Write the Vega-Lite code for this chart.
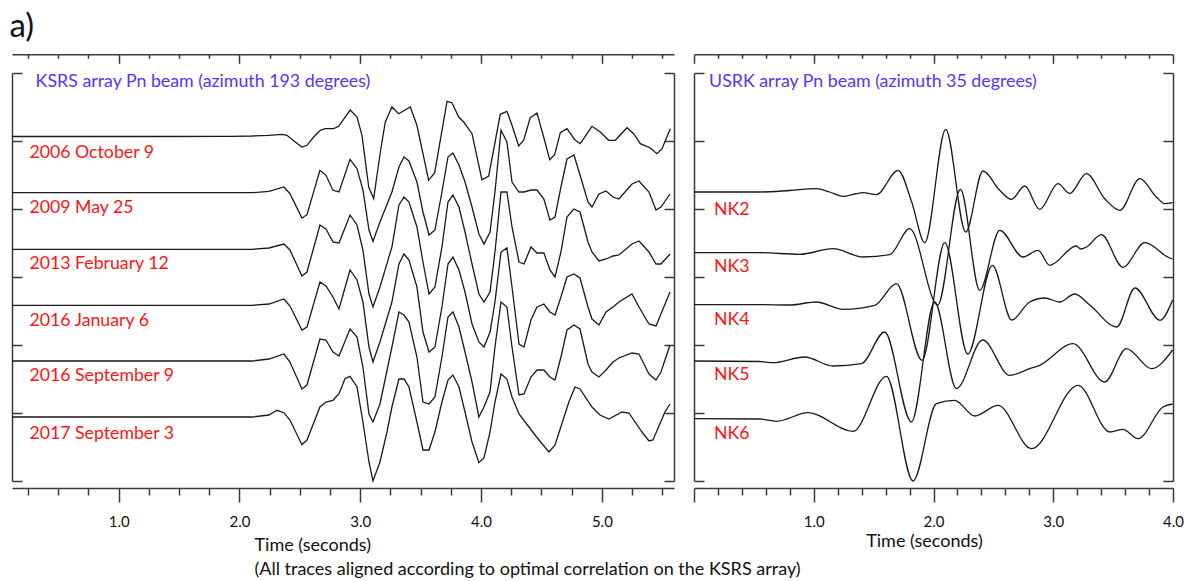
{
"$schema": "https://vega.github.io/schema/vega-lite/v6.json",
"background": "white",
"padding": {"left": 9, "top": 10, "right": 4, "bottom": 0},
"title": {"text": "a)", "anchor": "start", "frame": "bounds", "fontSize": 33, "font": "Lato", "fontWeight": "normal", "color": "#111", "offset": 10},
"config": {"view": {"stroke": null}, "axis": {"domainColor": "#3a3a3a", "domainWidth": 1.5, "tickColor": "#3a3a3a", "tickWidth": 1.5, "grid": false, "labelFont": "Lato", "titleFont": "Lato", "labelColor": "#111", "titleColor": "#111", "titleFontWeight": "normal"}},
"bounds": "flush",
"spacing": 20,
"datasets": {
"ksrs": [
{"trace":"2006","t":0.117,"v":3.445},{"trace":"2006","t":1.276,"v":3.445},{"trace":"2006","t":1.938,"v":3.447},{"trace":"2006","t":2.104,"v":3.45},{"trace":"2006","t":2.242,"v":3.457},{"trace":"2006","t":2.352,"v":3.467},{"trace":"2006","t":2.393,"v":3.457},{"trace":"2006","t":2.462,"v":3.39},{"trace":"2006","t":2.517,"v":3.34},{"trace":"2006","t":2.559,"v":3.357},
{"trace":"2006","t":2.614,"v":3.44},{"trace":"2006","t":2.669,"v":3.507},{"trace":"2006","t":2.71,"v":3.523},{"trace":"2006","t":2.78,"v":3.523},{"trace":"2006","t":2.821,"v":3.547},{"trace":"2006","t":2.917,"v":3.71},{"trace":"2006","t":2.973,"v":3.64},{"trace":"2006","t":3.014,"v":3.457},{"trace":"2006","t":3.07,"v":2.94},{"trace":"2006","t":3.111,"v":2.823},
{"trace":"2006","t":3.166,"v":3.29},{"trace":"2006","t":3.207,"v":3.59},{"trace":"2006","t":3.262,"v":3.74},{"trace":"2006","t":3.318,"v":3.673},{"trace":"2006","t":3.414,"v":3.74},{"trace":"2006","t":3.469,"v":3.557},{"trace":"2006","t":3.566,"v":3.007},{"trace":"2006","t":3.616,"v":3.083},{"trace":"2006","t":3.718,"v":3.797},{"trace":"2006","t":3.759,"v":3.783},
{"trace":"2006","t":3.815,"v":3.64},{"trace":"2006","t":3.856,"v":3.59},{"trace":"2006","t":3.925,"v":3.473},{"trace":"2006","t":4.007,"v":3.013},{"trace":"2006","t":4.063,"v":3.05},{"trace":"2006","t":4.159,"v":3.667},{"trace":"2006","t":4.214,"v":3.697},{"trace":"2006","t":4.256,"v":3.557},{"trace":"2006","t":4.311,"v":3.35},{"trace":"2006","t":4.353,"v":3.407},
{"trace":"2006","t":4.407,"v":3.633},{"trace":"2006","t":4.463,"v":3.68},{"trace":"2006","t":4.518,"v":3.44},{"trace":"2006","t":4.568,"v":3.213},{"trace":"2006","t":4.609,"v":3.263},{"trace":"2006","t":4.656,"v":3.483},{"trace":"2006","t":4.711,"v":3.523},{"trace":"2006","t":4.775,"v":3.413},{"trace":"2006","t":4.821,"v":3.373},{"trace":"2006","t":4.918,"v":3.547},
{"trace":"2006","t":4.987,"v":3.49},{"trace":"2006","t":5.056,"v":3.407},{"trace":"2006","t":5.111,"v":3.407},{"trace":"2006","t":5.208,"v":3.533},{"trace":"2006","t":5.263,"v":3.473},{"trace":"2006","t":5.318,"v":3.373},{"trace":"2006","t":5.401,"v":3.33},{"trace":"2006","t":5.456,"v":3.273},{"trace":"2006","t":5.498,"v":3.323},{"trace":"2006","t":5.566,"v":3.523},
{"trace":"2009","t":0.117,"v":2.883},{"trace":"2009","t":1.276,"v":2.883},{"trace":"2009","t":2.104,"v":2.883},{"trace":"2009","t":2.244,"v":2.897},{"trace":"2009","t":2.368,"v":2.94},{"trace":"2009","t":2.418,"v":2.873},{"trace":"2009","t":2.517,"v":2.63},{"trace":"2009","t":2.559,"v":2.663},{"trace":"2009","t":2.666,"v":3.107},{"trace":"2009","t":2.716,"v":3.057},
{"trace":"2009","t":2.774,"v":2.907},{"trace":"2009","t":2.824,"v":2.89},{"trace":"2009","t":2.915,"v":3.217},{"trace":"2009","t":2.973,"v":3.123},{"trace":"2009","t":3.022,"v":2.91},{"trace":"2009","t":3.072,"v":2.51},{"trace":"2009","t":3.105,"v":2.397},{"trace":"2009","t":3.163,"v":2.59},{"trace":"2009","t":3.262,"v":2.89},{"trace":"2009","t":3.32,"v":3.14},
{"trace":"2009","t":3.362,"v":3.24},{"trace":"2009","t":3.403,"v":3.2},{"trace":"2009","t":3.469,"v":2.99},{"trace":"2009","t":3.519,"v":2.69},{"trace":"2009","t":3.569,"v":2.46},{"trace":"2009","t":3.618,"v":2.51},{"trace":"2009","t":3.676,"v":2.89},{"trace":"2009","t":3.726,"v":3.24},{"trace":"2009","t":3.767,"v":3.28},{"trace":"2009","t":3.817,"v":3.16},
{"trace":"2009","t":3.867,"v":2.99},{"trace":"2009","t":3.925,"v":2.74},{"trace":"2009","t":3.982,"v":2.47},{"trace":"2009","t":4.024,"v":2.37},{"trace":"2009","t":4.074,"v":2.49},{"trace":"2009","t":4.115,"v":2.89},{"trace":"2009","t":4.165,"v":3.507},{"trace":"2009","t":4.214,"v":3.39},{"trace":"2009","t":4.256,"v":2.99},{"trace":"2009","t":4.314,"v":2.89},
{"trace":"2009","t":4.355,"v":2.89},{"trace":"2009","t":4.413,"v":2.91},{"trace":"2009","t":4.463,"v":2.91},{"trace":"2009","t":4.52,"v":2.82},{"trace":"2009","t":4.57,"v":2.61},{"trace":"2009","t":4.612,"v":2.64},{"trace":"2009","t":4.661,"v":2.94},{"trace":"2009","t":4.711,"v":3.22},{"trace":"2009","t":4.769,"v":3.26},{"trace":"2009","t":4.819,"v":3.06},
{"trace":"2009","t":4.885,"v":2.79},{"trace":"2009","t":4.918,"v":2.74},{"trace":"2009","t":4.976,"v":2.87},{"trace":"2009","t":5.034,"v":2.9},{"trace":"2009","t":5.092,"v":2.84},{"trace":"2009","t":5.141,"v":2.82},{"trace":"2009","t":5.249,"v":2.97},{"trace":"2009","t":5.307,"v":3.0},{"trace":"2009","t":5.39,"v":2.89},{"trace":"2009","t":5.448,"v":2.71},
{"trace":"2009","t":5.489,"v":2.74},{"trace":"2009","t":5.564,"v":2.87},
{"trace":"2013","t":0.117,"v":2.317},{"trace":"2013","t":1.276,"v":2.317},{"trace":"2013","t":2.104,"v":2.317},{"trace":"2013","t":2.244,"v":2.33},{"trace":"2013","t":2.368,"v":2.37},{"trace":"2013","t":2.418,"v":2.31},{"trace":"2013","t":2.517,"v":2.05},{"trace":"2013","t":2.559,"v":2.09},{"trace":"2013","t":2.666,"v":2.56},{"trace":"2013","t":2.716,"v":2.52},
{"trace":"2013","t":2.774,"v":2.39},{"trace":"2013","t":2.824,"v":2.38},{"trace":"2013","t":2.915,"v":2.66},{"trace":"2013","t":2.973,"v":2.56},{"trace":"2013","t":3.022,"v":2.31},{"trace":"2013","t":3.072,"v":1.87},{"trace":"2013","t":3.105,"v":1.74},{"trace":"2013","t":3.163,"v":1.94},{"trace":"2013","t":3.262,"v":2.34},{"trace":"2013","t":3.32,"v":2.76},
{"trace":"2013","t":3.362,"v":2.84},{"trace":"2013","t":3.403,"v":2.79},{"trace":"2013","t":3.469,"v":2.54},{"trace":"2013","t":3.519,"v":2.19},{"trace":"2013","t":3.569,"v":1.87},{"trace":"2013","t":3.618,"v":1.94},{"trace":"2013","t":3.676,"v":2.34},{"trace":"2013","t":3.726,"v":2.79},{"trace":"2013","t":3.767,"v":2.86},{"trace":"2013","t":3.817,"v":2.74},
{"trace":"2013","t":3.867,"v":2.49},{"trace":"2013","t":3.925,"v":2.17},{"trace":"2013","t":3.982,"v":1.87},{"trace":"2013","t":4.024,"v":1.79},{"trace":"2013","t":4.074,"v":1.89},{"trace":"2013","t":4.115,"v":2.29},{"trace":"2013","t":4.165,"v":2.89},{"trace":"2013","t":4.214,"v":2.89},{"trace":"2013","t":4.256,"v":2.54},{"trace":"2013","t":4.314,"v":2.19},
{"trace":"2013","t":4.355,"v":2.17},{"trace":"2013","t":4.413,"v":2.34},{"trace":"2013","t":4.463,"v":2.28},{"trace":"2013","t":4.52,"v":2.28},{"trace":"2013","t":4.57,"v":2.11},{"trace":"2013","t":4.612,"v":2.04},{"trace":"2013","t":4.661,"v":2.29},{"trace":"2013","t":4.711,"v":2.64},{"trace":"2013","t":4.769,"v":2.72},{"trace":"2013","t":4.819,"v":2.69},
{"trace":"2013","t":4.885,"v":2.39},{"trace":"2013","t":4.918,"v":2.29},{"trace":"2013","t":4.976,"v":2.2},{"trace":"2013","t":5.034,"v":2.22},{"trace":"2013","t":5.092,"v":2.25},{"trace":"2013","t":5.141,"v":2.26},{"trace":"2013","t":5.249,"v":2.37},{"trace":"2013","t":5.307,"v":2.4},{"trace":"2013","t":5.39,"v":2.29},{"trace":"2013","t":5.448,"v":2.17},
{"trace":"2013","t":5.489,"v":2.17},{"trace":"2013","t":5.564,"v":2.27},
{"trace":"2016a","t":0.117,"v":1.757},{"trace":"2016a","t":1.276,"v":1.757},{"trace":"2016a","t":2.104,"v":1.757},{"trace":"2016a","t":2.244,"v":1.77},{"trace":"2016a","t":2.368,"v":1.82},{"trace":"2016a","t":2.418,"v":1.75},{"trace":"2016a","t":2.517,"v":1.51},{"trace":"2016a","t":2.559,"v":1.54},{"trace":"2016a","t":2.666,"v":1.99},{"trace":"2016a","t":2.716,"v":1.95},
{"trace":"2016a","t":2.774,"v":1.84},{"trace":"2016a","t":2.824,"v":1.72},{"trace":"2016a","t":2.915,"v":2.11},{"trace":"2016a","t":2.973,"v":2.01},{"trace":"2016a","t":3.022,"v":1.79},{"trace":"2016a","t":3.072,"v":1.34},{"trace":"2016a","t":3.105,"v":1.19},{"trace":"2016a","t":3.163,"v":1.39},{"trace":"2016a","t":3.262,"v":1.79},{"trace":"2016a","t":3.32,"v":2.17},
{"trace":"2016a","t":3.362,"v":2.27},{"trace":"2016a","t":3.403,"v":2.21},{"trace":"2016a","t":3.469,"v":1.94},{"trace":"2016a","t":3.519,"v":1.49},{"trace":"2016a","t":3.569,"v":1.29},{"trace":"2016a","t":3.618,"v":1.34},{"trace":"2016a","t":3.676,"v":1.74},{"trace":"2016a","t":3.726,"v":2.17},{"trace":"2016a","t":3.767,"v":2.24},{"trace":"2016a","t":3.817,"v":2.11},
{"trace":"2016a","t":3.867,"v":1.89},{"trace":"2016a","t":3.925,"v":1.57},{"trace":"2016a","t":3.982,"v":1.39},{"trace":"2016a","t":4.024,"v":1.34},{"trace":"2016a","t":4.074,"v":1.49},{"trace":"2016a","t":4.115,"v":1.79},{"trace":"2016a","t":4.165,"v":2.29},{"trace":"2016a","t":4.214,"v":2.33},{"trace":"2016a","t":4.256,"v":1.94},{"trace":"2016a","t":4.314,"v":1.37},
{"trace":"2016a","t":4.355,"v":1.34},{"trace":"2016a","t":4.413,"v":1.61},{"trace":"2016a","t":4.463,"v":1.74},{"trace":"2016a","t":4.52,"v":1.77},{"trace":"2016a","t":4.57,"v":1.69},{"trace":"2016a","t":4.612,"v":1.66},{"trace":"2016a","t":4.661,"v":1.84},{"trace":"2016a","t":4.711,"v":2.04},{"trace":"2016a","t":4.769,"v":2.07},{"trace":"2016a","t":4.819,"v":2.03},
{"trace":"2016a","t":4.885,"v":1.74},{"trace":"2016a","t":4.918,"v":1.62},{"trace":"2016a","t":4.976,"v":1.56},{"trace":"2016a","t":5.034,"v":1.69},{"trace":"2016a","t":5.092,"v":1.74},{"trace":"2016a","t":5.141,"v":1.79},{"trace":"2016a","t":5.249,"v":1.87},{"trace":"2016a","t":5.307,"v":1.74},{"trace":"2016a","t":5.39,"v":1.57},{"trace":"2016a","t":5.448,"v":1.55},
{"trace":"2016a","t":5.489,"v":1.67},{"trace":"2016a","t":5.564,"v":1.89},
{"trace":"2016b","t":0.117,"v":1.2},{"trace":"2016b","t":1.276,"v":1.2},{"trace":"2016b","t":2.104,"v":1.2},{"trace":"2016b","t":2.244,"v":1.22},{"trace":"2016b","t":2.368,"v":1.27},{"trace":"2016b","t":2.418,"v":1.19},{"trace":"2016b","t":2.517,"v":0.92},{"trace":"2016b","t":2.559,"v":0.96},{"trace":"2016b","t":2.666,"v":1.42},{"trace":"2016b","t":2.716,"v":1.41},
{"trace":"2016b","t":2.774,"v":1.29},{"trace":"2016b","t":2.824,"v":1.25},{"trace":"2016b","t":2.915,"v":1.52},{"trace":"2016b","t":2.973,"v":1.44},{"trace":"2016b","t":3.022,"v":1.14},{"trace":"2016b","t":3.072,"v":0.67},{"trace":"2016b","t":3.105,"v":0.59},{"trace":"2016b","t":3.163,"v":0.77},{"trace":"2016b","t":3.262,"v":1.34},{"trace":"2016b","t":3.32,"v":1.69},
{"trace":"2016b","t":3.362,"v":1.66},{"trace":"2016b","t":3.403,"v":1.59},{"trace":"2016b","t":3.469,"v":1.24},{"trace":"2016b","t":3.519,"v":0.79},{"trace":"2016b","t":3.569,"v":0.77},{"trace":"2016b","t":3.618,"v":0.84},{"trace":"2016b","t":3.676,"v":1.24},{"trace":"2016b","t":3.726,"v":1.64},{"trace":"2016b","t":3.767,"v":1.69},{"trace":"2016b","t":3.817,"v":1.54},
{"trace":"2016b","t":3.867,"v":1.29},{"trace":"2016b","t":3.925,"v":0.99},{"trace":"2016b","t":3.982,"v":0.64},{"trace":"2016b","t":4.024,"v":0.74},{"trace":"2016b","t":4.074,"v":0.89},{"trace":"2016b","t":4.115,"v":1.34},{"trace":"2016b","t":4.165,"v":1.79},{"trace":"2016b","t":4.214,"v":1.74},{"trace":"2016b","t":4.256,"v":1.34},{"trace":"2016b","t":4.314,"v":0.86},
{"trace":"2016b","t":4.355,"v":0.87},{"trace":"2016b","t":4.413,"v":1.04},{"trace":"2016b","t":4.463,"v":1.11},{"trace":"2016b","t":4.52,"v":1.11},{"trace":"2016b","t":4.57,"v":1.04},{"trace":"2016b","t":4.612,"v":1.01},{"trace":"2016b","t":4.661,"v":1.24},{"trace":"2016b","t":4.711,"v":1.51},{"trace":"2016b","t":4.769,"v":1.56},{"trace":"2016b","t":4.819,"v":1.52},
{"trace":"2016b","t":4.885,"v":1.17},{"trace":"2016b","t":4.918,"v":1.09},{"trace":"2016b","t":4.976,"v":1.04},{"trace":"2016b","t":5.034,"v":1.11},{"trace":"2016b","t":5.092,"v":1.19},{"trace":"2016b","t":5.141,"v":1.23},{"trace":"2016b","t":5.249,"v":1.28},{"trace":"2016b","t":5.307,"v":1.27},{"trace":"2016b","t":5.39,"v":1.07},{"trace":"2016b","t":5.448,"v":1.01},
{"trace":"2016b","t":5.489,"v":1.09},{"trace":"2016b","t":5.564,"v":1.36},
{"trace":"2017","t":0.117,"v":0.64},{"trace":"2017","t":1.276,"v":0.64},{"trace":"2017","t":2.104,"v":0.64},{"trace":"2017","t":2.244,"v":0.66},{"trace":"2017","t":2.31,"v":0.707},{"trace":"2017","t":2.368,"v":0.683},{"trace":"2017","t":2.418,"v":0.61},{"trace":"2017","t":2.517,"v":0.363},{"trace":"2017","t":2.559,"v":0.41},{"trace":"2017","t":2.666,"v":0.74},
{"trace":"2017","t":2.716,"v":0.79},{"trace":"2017","t":2.774,"v":0.807},{"trace":"2017","t":2.824,"v":0.873},{"trace":"2017","t":2.873,"v":1.023},{"trace":"2017","t":2.915,"v":1.047},{"trace":"2017","t":2.973,"v":0.94},{"trace":"2017","t":3.022,"v":0.59},{"trace":"2017","t":3.072,"v":0.19},{"trace":"2017","t":3.105,"v":0.0},{"trace":"2017","t":3.163,"v":0.19},
{"trace":"2017","t":3.221,"v":0.49},{"trace":"2017","t":3.262,"v":0.74},{"trace":"2017","t":3.32,"v":1.02},{"trace":"2017","t":3.362,"v":1.02},{"trace":"2017","t":3.403,"v":0.94},{"trace":"2017","t":3.469,"v":0.59},{"trace":"2017","t":3.519,"v":0.31},{"trace":"2017","t":3.569,"v":0.31},{"trace":"2017","t":3.618,"v":0.49},{"trace":"2017","t":3.676,"v":0.79},
{"trace":"2017","t":3.726,"v":1.01},{"trace":"2017","t":3.767,"v":1.06},{"trace":"2017","t":3.817,"v":0.94},{"trace":"2017","t":3.867,"v":0.69},{"trace":"2017","t":3.925,"v":0.39},{"trace":"2017","t":3.982,"v":0.183},{"trace":"2017","t":4.024,"v":0.23},{"trace":"2017","t":4.074,"v":0.49},{"trace":"2017","t":4.115,"v":0.79},{"trace":"2017","t":4.165,"v":1.07},
{"trace":"2017","t":4.214,"v":1.02},{"trace":"2017","t":4.256,"v":0.84},{"trace":"2017","t":4.314,"v":0.67},{"trace":"2017","t":4.396,"v":0.54},{"trace":"2017","t":4.479,"v":0.41},{"trace":"2017","t":4.562,"v":0.29},{"trace":"2017","t":4.612,"v":0.36},{"trace":"2017","t":4.727,"v":0.79},{"trace":"2017","t":4.777,"v":0.94},{"trace":"2017","t":4.819,"v":0.92},
{"trace":"2017","t":4.918,"v":0.74},{"trace":"2017","t":4.984,"v":0.66},{"trace":"2017","t":5.059,"v":0.62},{"trace":"2017","t":5.166,"v":0.69},{"trace":"2017","t":5.224,"v":0.68},{"trace":"2017","t":5.332,"v":0.49},{"trace":"2017","t":5.39,"v":0.4},{"trace":"2017","t":5.423,"v":0.41},{"trace":"2017","t":5.522,"v":0.69},{"trace":"2017","t":5.564,"v":0.77}
],
"ksrsLabels": [
{"label":"2006 October 9","t":0.262,"v":3.285},
{"label":"2009 May 25","t":0.262,"v":2.735},
{"label":"2013 February 12","t":0.262,"v":2.17},
{"label":"2016 January 6","t":0.262,"v":1.605},
{"label":"2016 September 9","t":0.262,"v":1.05},
{"label":"2017 September 3","t":0.262,"v":0.47}
],
"nk": [
{"trace":"NK2","t":0,"v":2.89},{"trace":"NK2","t":0.549,"v":2.89},{"trace":"NK2","t":0.799,"v":2.905},{"trace":"NK2","t":1.022,"v":2.923},{"trace":"NK2","t":1.133,"v":2.89},{"trace":"NK2","t":1.244,"v":2.847},{"trace":"NK2","t":1.342,"v":2.87},{"trace":"NK2","t":1.411,"v":2.883},{"trace":"NK2","t":1.523,"v":2.863},{"trace":"NK2","t":1.704,"v":3.107},
{"trace":"NK2","t":1.818,"v":2.79},{"trace":"NK2","t":1.927,"v":2.383},{"trace":"NK2","t":2.102,"v":3.517},{"trace":"NK2","t":2.269,"v":2.49},{"trace":"NK2","t":2.413,"v":3.1},{"trace":"NK2","t":2.553,"v":2.907},{"trace":"NK2","t":2.651,"v":2.817},{"trace":"NK2","t":2.762,"v":2.95},{"trace":"NK2","t":2.887,"v":2.717},{"trace":"NK2","t":3.04,"v":2.973},
{"trace":"NK2","t":3.137,"v":2.875},{"trace":"NK2","t":3.277,"v":3.073},{"trace":"NK2","t":3.43,"v":2.823},{"trace":"NK2","t":3.556,"v":2.707},{"trace":"NK2","t":3.723,"v":3.023},{"trace":"NK2","t":3.861,"v":2.84},{"trace":"NK2","t":3.931,"v":2.773},{"trace":"NK2","t":3.997,"v":2.783},
{"trace":"NK3","t":0,"v":2.283},{"trace":"NK3","t":0.549,"v":2.283},{"trace":"NK3","t":0.883,"v":2.267},{"trace":"NK3","t":1.161,"v":2.323},{"trace":"NK3","t":1.411,"v":2.24},{"trace":"NK3","t":1.634,"v":2.263},{"trace":"NK3","t":1.801,"v":2.523},{"trace":"NK3","t":2.035,"v":1.76},{"trace":"NK3","t":2.225,"v":2.917},{"trace":"NK3","t":2.386,"v":1.907},
{"trace":"NK3","t":2.553,"v":2.507},{"trace":"NK3","t":2.747,"v":2.24},{"trace":"NK3","t":2.873,"v":2.307},{"trace":"NK3","t":2.97,"v":2.157},{"trace":"NK3","t":3.193,"v":2.35},{"trace":"NK3","t":3.229,"v":2.32},{"trace":"NK3","t":3.277,"v":2.34},{"trace":"NK3","t":3.402,"v":2.463},{"trace":"NK3","t":3.582,"v":2.137},{"trace":"NK3","t":3.764,"v":2.383},
{"trace":"NK3","t":3.972,"v":2.23},{"trace":"NK3","t":3.997,"v":2.22},
{"trace":"NK4","t":0,"v":1.763},{"trace":"NK4","t":0.549,"v":1.763},{"trace":"NK4","t":0.799,"v":1.76},{"trace":"NK4","t":1.022,"v":1.79},{"trace":"NK4","t":1.244,"v":1.717},{"trace":"NK4","t":1.509,"v":1.757},{"trace":"NK4","t":1.69,"v":1.973},{"trace":"NK4","t":1.904,"v":1.207},{"trace":"NK4","t":2.094,"v":2.383},{"trace":"NK4","t":2.286,"v":1.27},
{"trace":"NK4","t":2.492,"v":2.157},{"trace":"NK4","t":2.653,"v":1.61},{"trace":"NK4","t":2.803,"v":1.79},{"trace":"NK4","t":2.929,"v":1.83},{"trace":"NK4","t":3.054,"v":1.79},{"trace":"NK4","t":3.179,"v":1.87},{"trace":"NK4","t":3.305,"v":1.76},{"trace":"NK4","t":3.53,"v":1.54},{"trace":"NK4","t":3.682,"v":1.93},{"trace":"NK4","t":3.891,"v":1.607},
{"trace":"NK4","t":3.997,"v":1.81},
{"trace":"NK5","t":0,"v":1.2},{"trace":"NK5","t":0.549,"v":1.195},{"trace":"NK5","t":0.66,"v":1.183},{"trace":"NK5","t":0.924,"v":1.24},{"trace":"NK5","t":1.161,"v":1.15},{"trace":"NK5","t":1.398,"v":1.173},{"trace":"NK5","t":1.592,"v":1.49},{"trace":"NK5","t":1.815,"v":0.59},{"trace":"NK5","t":2.01,"v":1.79},{"trace":"NK5","t":2.191,"v":0.923},
{"trace":"NK5","t":2.411,"v":1.41},{"trace":"NK5","t":2.636,"v":1.057},{"trace":"NK5","t":2.803,"v":1.123},{"trace":"NK5","t":2.887,"v":1.157},{"trace":"NK5","t":3.165,"v":1.373},{"trace":"NK5","t":3.43,"v":0.99},{"trace":"NK5","t":3.611,"v":1.323},{"trace":"NK5","t":3.82,"v":1.123},{"trace":"NK5","t":3.997,"v":1.31},
{"trace":"NK6","t":0,"v":0.623},{"trace":"NK6","t":0.549,"v":0.62},{"trace":"NK6","t":0.688,"v":0.597},{"trace":"NK6","t":0.952,"v":0.683},{"trace":"NK6","t":1.328,"v":0.497},{"trace":"NK6","t":1.607,"v":1.047},{"trace":"NK6","t":1.829,"v":0.0},{"trace":"NK6","t":2.024,"v":0.773},{"trace":"NK6","t":2.177,"v":0.807},{"trace":"NK6","t":2.344,"v":0.65},
{"trace":"NK6","t":2.539,"v":0.757},{"trace":"NK6","t":2.818,"v":0.323},{"trace":"NK6","t":3.207,"v":0.957},{"trace":"NK6","t":3.472,"v":0.49},{"trace":"NK6","t":3.582,"v":0.517},{"trace":"NK6","t":3.708,"v":0.423},{"trace":"NK6","t":3.916,"v":0.74},{"trace":"NK6","t":3.997,"v":0.77}
],
"nkLabels": [
{"label":"NK2","t":0.168,"v":2.707},
{"label":"NK3","t":0.168,"v":2.14},
{"label":"NK4","t":0.168,"v":1.607},
{"label":"NK5","t":0.168,"v":1.057},
{"label":"NK6","t":0.168,"v":0.473}
]
},
"hconcat": [
{
"width": 662, "height": 408,
"layer": [
{"data": {"name": "ksrs"},
 "mark": {"type": "line", "color": "#1a1a1a", "strokeWidth": 1.3},
 "encoding": {
  "x": {"field": "t", "type": "quantitative", "scale": {"domain": [0.117, 5.597], "nice": false, "zero": false},
   "axis": {"orient": "bottom", "offset": 7, "values": [0.25,0.5,0.75,1,1.25,1.5,1.75,2,2.25,2.5,2.75,3,3.25,3.5,3.75,4,4.25,4.5,4.75,5,5.25,5.5],
    "tickSize": {"condition": {"test": "abs(datum.value - round(datum.value)) < 0.001", "value": 14}, "value": 7},
    "labelExpr": "abs(datum.value - round(datum.value)) < 0.001 ? format(datum.value, '.1f') : ''",
    "labelFontSize": 15, "labelPadding": 12, "labelFlush": false, "labelOverlap": false, "labelBound": false,
    "title": ["Time (seconds)", "(All traces aligned according to optimal correlation on the KSRS array)"],
    "titleFontSize": 18, "titleAlign": "left", "titleX": 242, "titleY": 62, "titleBaseline": "alphabetic", "titleLineHeight": 24}},
  "y": {"field": "v", "type": "quantitative", "scale": {"domain": [0, 4.08], "nice": false, "zero": false},
   "axis": {"orient": "left", "values": [0, 0.68, 1.36, 2.04, 2.72, 3.4, 4.08], "tickSize": -10, "labels": false, "title": null}},
  "detail": {"field": "trace"}
 }},
{"data": {"name": "ksrsLabels"},
 "mark": {"type": "text", "align": "left", "baseline": "middle", "fontSize": 17.7, "font": "Lato", "color": "#ff1414"},
 "encoding": {
  "x": {"field": "t", "type": "quantitative", "scale": {"domain": [0.117, 5.597], "nice": false, "zero": false},
   "axis": {"orient": "top", "offset": 18.7, "values": [0.25,0.5,0.75,1,1.25,1.5,1.75,2,2.25,2.5,2.75,3,3.25,3.5,3.75,4,4.25,4.5,4.75,5,5.25,5.5],
    "tickSize": {"condition": {"test": "abs(datum.value - round(datum.value)) < 0.001", "value": -9}, "value": -4},
    "labels": false, "title": null}},
  "y": {"field": "v", "type": "quantitative", "scale": {"domain": [0, 4.08], "nice": false, "zero": false},
   "axis": {"orient": "right", "values": [0, 0.68, 1.36, 2.04, 2.72, 3.4, 4.08], "tickSize": -10, "labels": false, "title": null}},
  "text": {"field": "label"}
 }},
{"data": {"values": [{"label": "KSRS array Pn beam (azimuth 193 degrees)", "t": 0.3125, "v": 3.99}]},
 "mark": {"type": "text", "align": "left", "baseline": "middle", "fontSize": 17.8, "font": "Lato", "color": "#5533ff"},
 "encoding": {
  "x": {"field": "t", "type": "quantitative", "scale": {"domain": [0.117, 5.597], "nice": false, "zero": false}, "axis": null},
  "y": {"field": "v", "type": "quantitative", "scale": {"domain": [0, 4.08], "nice": false, "zero": false}, "axis": null},
  "text": {"field": "label"}
 }}
],
"resolve": {"axis": {"x": "independent", "y": "independent"}}
},
{
"width": 479, "height": 408,
"layer": [
{"data": {"name": "nk"},
 "mark": {"type": "line", "color": "#1a1a1a", "strokeWidth": 1.3, "interpolate": "monotone"},
 "encoding": {
  "x": {"field": "t", "type": "quantitative", "scale": {"domain": [0, 4], "nice": false, "zero": false},
   "axis": {"orient": "bottom", "offset": 7, "values": [0,0.2,0.4,0.6,0.8,1,1.2,1.4,1.6,1.8,2,2.2,2.4,2.6,2.8,3,3.2,3.4,3.6,3.8,4],
    "tickSize": {"condition": {"test": "abs(datum.value - round(datum.value)) < 0.001", "value": 14}, "value": 7},
    "labelExpr": "datum.value > 0.5 && abs(datum.value - round(datum.value)) < 0.001 ? format(datum.value, '.1f') : ''",
    "labelFontSize": 15, "labelPadding": 12, "labelFlush": false, "labelOverlap": false, "labelBound": false,
    "title": "Time (seconds)", "titleFontSize": 18, "titleAlign": "center", "titleX": 230, "titleY": 58, "titleBaseline": "alphabetic"}},
  "y": {"field": "v", "type": "quantitative", "scale": {"domain": [0, 4.08], "nice": false, "zero": false},
   "axis": {"orient": "left", "values": [0, 0.68, 1.36, 2.04, 2.72, 3.4, 4.08], "tickSize": -10, "labels": false, "title": null}},
  "detail": {"field": "trace"}
 }},
{"data": {"name": "nkLabels"},
 "mark": {"type": "text", "align": "left", "baseline": "middle", "fontSize": 17.7, "font": "Lato", "color": "#ff1414"},
 "encoding": {
  "x": {"field": "t", "type": "quantitative", "scale": {"domain": [0, 4], "nice": false, "zero": false},
   "axis": {"orient": "top", "offset": 18.7, "values": [0,0.2,0.4,0.6,0.8,1,1.2,1.4,1.6,1.8,2,2.2,2.4,2.6,2.8,3,3.2,3.4,3.6,3.8,4],
    "tickSize": {"condition": {"test": "abs(datum.value - round(datum.value)) < 0.001", "value": -9}, "value": -4},
    "labels": false, "title": null}},
  "y": {"field": "v", "type": "quantitative", "scale": {"domain": [0, 4.08], "nice": false, "zero": false},
   "axis": {"orient": "right", "values": [0, 0.68, 1.36, 2.04, 2.72, 3.4, 4.08], "tickSize": -10, "labels": false, "title": null}},
  "text": {"field": "label"}
 }},
{"data": {"values": [{"label": "USRK array Pn beam (azimuth 35 degrees)", "t": 0.126, "v": 3.99}]},
 "mark": {"type": "text", "align": "left", "baseline": "middle", "fontSize": 17.8, "font": "Lato", "color": "#5533ff"},
 "encoding": {
  "x": {"field": "t", "type": "quantitative", "scale": {"domain": [0, 4], "nice": false, "zero": false}, "axis": null},
  "y": {"field": "v", "type": "quantitative", "scale": {"domain": [0, 4.08], "nice": false, "zero": false}, "axis": null},
  "text": {"field": "label"}
 }}
],
"resolve": {"axis": {"x": "independent", "y": "independent"}}
}
]
}
